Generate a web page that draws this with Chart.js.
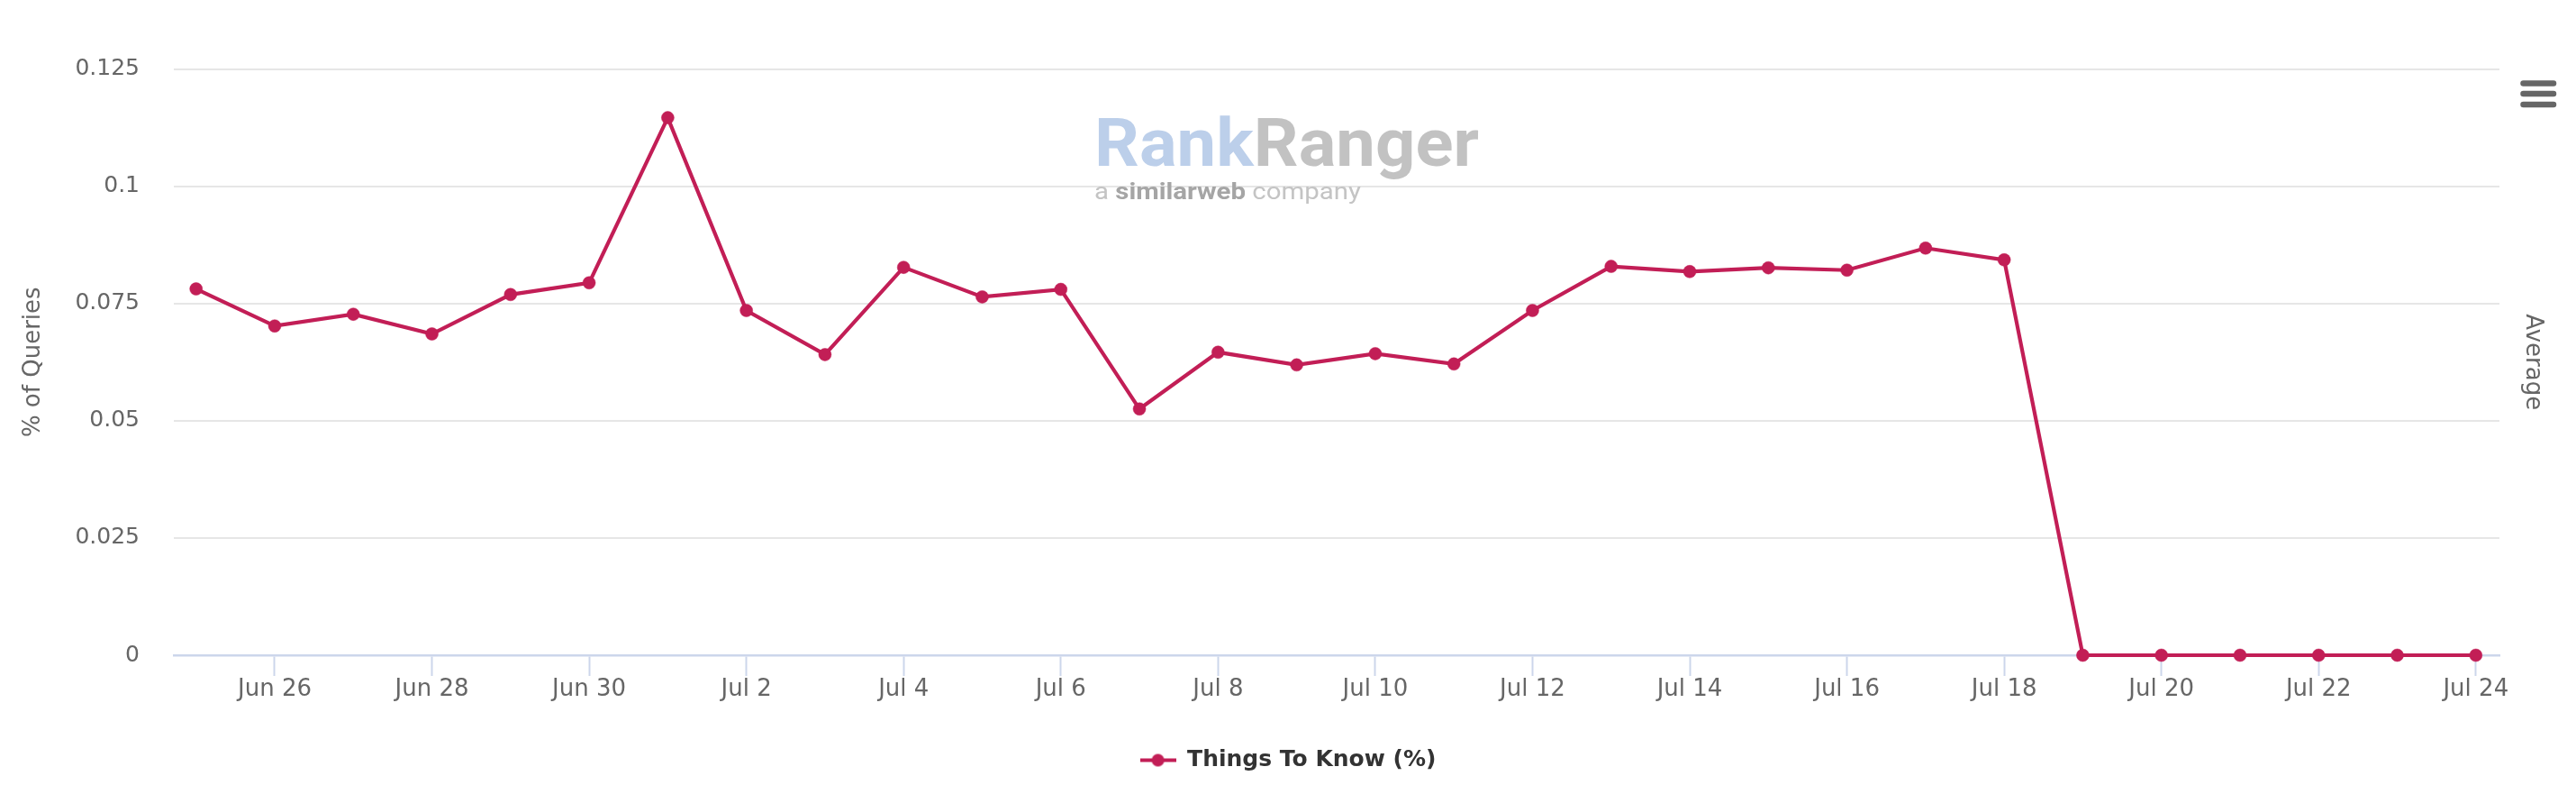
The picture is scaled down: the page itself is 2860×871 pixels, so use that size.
<!DOCTYPE html>
<html>
<head>
<meta charset="utf-8">
<title>Things To Know (%)</title>
<script src="https://cdn.jsdelivr.net/npm/chart.js@4.4.1/dist/chart.umd.min.js"></script>
<style>
  html, body { margin: 0; padding: 0; background: #ffffff; }
  #wrap { width: 2860px; height: 871px; }
</style>
</head>
<body>
<div id="wrap"><canvas id="myChart" width="2860" height="871"></canvas></div>
<script>
'use strict';

// data

let dayLabels = [
  'Jun 25', 'Jun 26', 'Jun 27', 'Jun 28', 'Jun 29', 'Jun 30',
  'Jul 1', 'Jul 2', 'Jul 3', 'Jul 4', 'Jul 5', 'Jul 6', 'Jul 7', 'Jul 8',
  'Jul 9', 'Jul 10', 'Jul 11', 'Jul 12', 'Jul 13', 'Jul 14', 'Jul 15',
  'Jul 16', 'Jul 17', 'Jul 18', 'Jul 19', 'Jul 20', 'Jul 21', 'Jul 22',
  'Jul 23', 'Jul 24'
];

let thingsToKnow = [
  0.0781, 0.0702, 0.0727, 0.0685, 0.0769, 0.0794,
  0.1146, 0.0735, 0.0641, 0.0827, 0.0764, 0.0780, 0.0525, 0.0646,
  0.0619, 0.0643, 0.0621, 0.0735, 0.0829, 0.0818, 0.0826,
  0.0821, 0.0868, 0.0843, 0, 0, 0, 0,
  0, 0
];

let yTicks = [0, 0.025, 0.05, 0.075, 0.1, 0.125];
let seriesName = 'Things To Know (%)';

// colours and fonts

let lineColor = '#c21e56';
let textGray = '#666666';
let fontFamily = '"DejaVu Sans", "Liberation Sans", sans-serif';

// legend marker: a short line with a dot, like the original
function makeLegendMarker() {
  let c = document.createElement('canvas');
  c.width = 40;
  c.height = 16;
  let g = c.getContext('2d');
  g.strokeStyle = lineColor;
  g.lineWidth = 4;
  g.beginPath();
  g.moveTo(0, 8);
  g.lineTo(40, 8);
  g.stroke();
  g.fillStyle = lineColor;
  g.beginPath();
  g.arc(20, 8, 7, 0, Math.PI * 2);
  g.fill();
  return c;
}
let legendMarker = makeLegendMarker();

// watermark + menu icon
let decorPlugin = {
  id: 'decor',
  beforeDatasetsDraw(chart) {
    let ctx = chart.ctx;
    ctx.save();
    // RankRanger logo text
    ctx.font = 'bold 74px Roboto, "Liberation Sans", sans-serif';
    ctx.textBaseline = 'alphabetic';
    let w1 = ctx.measureText('Rank').width;
    let w2 = ctx.measureText('Ranger').width;
    let sx = 427 / (w1 + w2);
    ctx.translate(1215, 184);
    ctx.scale(sx, 1);
    ctx.fillStyle = '#bccfea';
    ctx.fillText('Rank', 0, 0);
    ctx.fillStyle = '#c2c2c2';
    ctx.fillText('Ranger', w1, 0);
    ctx.restore();

    ctx.save();
    ctx.font = '26px Roboto, "Liberation Sans", sans-serif';
    let a = ctx.measureText('a ').width;
    ctx.font = 'bold 26px Roboto, "Liberation Sans", sans-serif';
    let b = ctx.measureText('similarweb').width;
    ctx.font = '26px Roboto, "Liberation Sans", sans-serif';
    let c = ctx.measureText(' company').width;
    let s2 = 296 / (a + b + c);
    ctx.translate(1215, 214);
    ctx.scale(s2, 1);
    ctx.fillStyle = '#c4c4c4';
    ctx.fillText('a ', 0, 0);
    ctx.fillText(' company', a + b, 0);
    ctx.font = 'bold 26px Roboto, "Liberation Sans", sans-serif';
    ctx.fillStyle = '#a5a5a5';
    ctx.fillText('similarweb', a, 0);
    ctx.restore();
  },
  afterDraw(chart) {
    let ctx = chart.ctx;
    ctx.save();
    ctx.strokeStyle = '#666666';
    ctx.lineWidth = 6.5;
    ctx.lineCap = 'round';
    [92.5, 104, 116].forEach(function (yy) {
      ctx.beginPath();
      ctx.moveTo(2801.5, yy);
      ctx.lineTo(2835, yy);
      ctx.stroke();
    });
    ctx.restore();
  }
};

const ctx = document.getElementById('myChart').getContext('2d');

let myChart = new Chart(ctx, {
  type: 'line',
  data: {
    datasets: [{
      label: seriesName,
      data: thingsToKnow.map(function (v, i) { return { x: i, y: v }; }),
      borderColor: lineColor,
      backgroundColor: lineColor,
      borderWidth: 4.2,
      pointRadius: 7,
      pointHoverRadius: 7,
      pointBorderWidth: 0.5,
      pointBackgroundColor: lineColor,
      pointBorderColor: lineColor,
      tension: 0,
      clip: false,
      yAxisID: 'y'
    }]
  },
  options: {
    responsive: false,
    animation: false,
    devicePixelRatio: 1,
    layout: {
      padding: { top: 76.5, bottom: 5, left: 0, right: 0 }
    },
    plugins: {
      tooltip: { enabled: false },
      legend: {
        position: 'bottom',
        labels: {
          usePointStyle: true,
          pointStyleWidth: 40,
          color: '#333333',
          padding: 10,
          font: { family: fontFamily, size: 25, weight: 'bold' },
          generateLabels: function (chart) {
            return [{
              text: seriesName,
              fontColor: '#333333',
              pointStyle: legendMarker,
              fillStyle: lineColor,
              strokeStyle: lineColor,
              lineWidth: 0,
              hidden: false,
              datasetIndex: 0
            }];
          }
        }
      }
    },
    scales: {
      x: {
        type: 'linear',
        min: -0.283,
        max: 29.3,
        afterBuildTicks: function (scale) {
          scale.ticks = dayLabels
            .map(function (d, i) { return i; })
            .filter(function (i) { return i % 2 === 1; })
            .map(function (i) { return { value: i }; });
        },
        afterFit: function (scale) { scale.height = 94; },
        grid: {
          drawOnChartArea: false,
          drawTicks: true,
          tickLength: 23,
          tickWidth: 2,
          color: '#ccd6eb'
        },
        border: { display: true, color: '#ccd6eb', width: 2.5 },
        ticks: {
          autoSkip: false,
          maxRotation: 0,
          padding: 0,
          color: textGray,
          font: { family: fontFamily, size: 26 },
          callback: function (value) { return dayLabels[value]; }
        }
      },
      y: {
        position: 'left',
        min: 0,
        max: 0.125,
        afterBuildTicks: function (scale) {
          scale.ticks = yTicks.map(function (v) { return { value: v }; });
        },
        afterFit: function (scale) { scale.width = 193; },
        grid: {
          color: '#e6e6e6',
          lineWidth: 2,
          drawTicks: false
        },
        border: { display: false },
        ticks: {
          padding: 38,
          color: textGray,
          font: { family: fontFamily, size: 25 },
          callback: function (value) { return String(value); }
        },
        title: {
          display: true,
          text: '% of Queries',
          color: textGray,
          padding: { top: 21.4, bottom: 0 },
          font: { family: fontFamily, size: 26 }
        }
      },
      y2: {
        position: 'right',
        min: 0,
        max: 1,
        afterFit: function (scale) { scale.width = 85; },
        grid: { display: false },
        border: { display: false },
        ticks: { display: false },
        title: {
          display: true,
          text: 'Average',
          color: textGray,
          padding: { top: 32.4, bottom: 0 },
          font: { family: fontFamily, size: 26 }
        }
      }
    }
  },
  plugins: [decorPlugin]
});
</script>
</body>
</html>
